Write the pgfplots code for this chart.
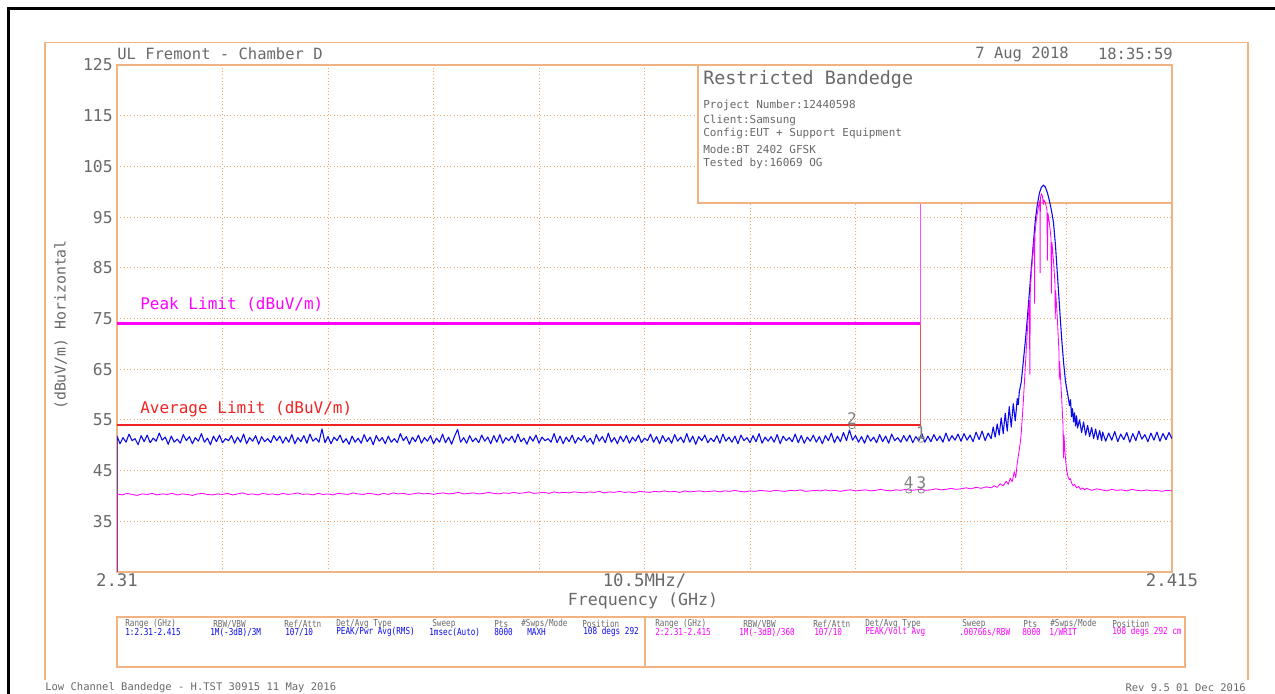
\documentclass[border=0pt]{standalone}
\usepackage{pgfplots}
\pgfplotsset{compat=1.18}
\usepackage{graphicx}
\usepackage{fontspec}
\setmainfont{DejaVu Sans Mono}

\definecolor{frameor}{RGB}{240,180,130}
\definecolor{gridor}{RGB}{240,165,105}
\definecolor{trblue}{RGB}{10,10,235}
\definecolor{trmag}{RGB}{255,0,255}
\definecolor{limred}{RGB}{240,35,35}
\definecolor{txtgray}{RGB}{105,105,105}

% table cell: x, y, colour, text (coordinates in screen pixels)
\newcommand{\tbl}[4]{\node[anchor=west,text=#3] at (#1,#2) {\scalebox{1}[1.25]{\fontsize{4.6}{5}\selectfont #4}};}

\begin{document}
\begin{tikzpicture}
\useasboundingbox (0,0) rectangle (765pt,416.4pt);

\begin{axis}[
  at={(70.2pt,73.2pt)}, anchor=south west,
  scale only axis, width=633pt, height=304.2pt,
  xmin=2310, xmax=2415, ymin=25, ymax=125,
  xtick={2310,2320.5,2331,2341.5,2352,2362.5,2373,2383.5,2394,2404.5,2415},
  xticklabels={2.31,,,,,10.5MHz/,,,,,2.415},
  ytick={25,35,...,125},
  yticklabels={,35,45,55,65,75,85,95,105,115,125},
  grid=major,
  grid style={gridor, line width=0.5pt, dash pattern=on 0.6pt off 1.4pt},
  axis line style={frameor, line width=0.9pt},
  major tick length=0pt,
  xticklabel style={font=\fontsize{10.4}{12}\selectfont, text=txtgray, inner sep=0pt, yshift=-1pt},
  yticklabel style={font=\fontsize{9.8}{12}\selectfont, text=txtgray, inner sep=0pt, xshift=-2.4pt},
  /pgf/number format/assume math mode=true,
  clip mode=individual,
]

% info box covers the grid, traces go over it
\fill[white] (axis cs:2367.8,97.8) rectangle (axis cs:2415,125);
\draw[frameor, line width=0.9pt] (axis cs:2367.8,97.8) rectangle (axis cs:2415,125);

% trace 1: peak, max hold
\addplot[trblue, line width=0.65pt, line join=round] coordinates {
(2310,24)
(2310.0,51.8) (2310.3,50.3) (2310.6,51.5) (2310.9,50.6) (2311.2,52.2) (2311.5,50.9) (2311.8,51.3) (2312.1,50.1) (2312.4,51.9) (2312.7,50.7)
(2313.0,52.0) (2313.3,50.5) (2313.6,51.4) (2313.9,50.8) (2314.2,52.4) (2314.5,51.0) (2314.8,51.6) (2315.1,50.2) (2315.4,51.8) (2315.7,50.6)
(2316.0,51.2) (2316.3,50.4) (2316.6,52.1) (2316.9,50.9) (2317.2,51.7) (2317.5,50.3) (2317.8,51.5) (2318.1,50.8) (2318.4,52.3) (2318.7,50.6)
(2319.0,51.4) (2319.3,50.1) (2319.6,51.8) (2319.9,50.7) (2320.2,52.0) (2320.5,50.5) (2320.8,51.3) (2321.1,50.9) (2321.4,51.9) (2321.7,50.4)
(2322.0,51.6) (2322.3,50.6) (2322.6,52.2) (2322.9,50.3) (2323.2,51.5) (2323.5,50.8) (2323.8,51.9) (2324.1,50.2) (2324.4,51.7) (2324.7,50.7)
(2325.0,51.3) (2325.3,50.5) (2325.6,51.9) (2325.9,50.9) (2326.2,51.8) (2326.5,50.4) (2326.8,51.6) (2327.1,50.6) (2327.4,52.1) (2327.7,50.3)
(2328.0,51.5) (2328.3,50.7) (2328.6,51.9) (2328.9,50.4) (2329.2,52.2) (2329.5,50.8) (2329.8,51.4) (2330.1,50.6) (2330.4,53.2) (2330.7,50.5)
(2331.0,51.7) (2331.3,50.3) (2331.6,51.6) (2331.9,50.9) (2332.2,52.0) (2332.5,50.5) (2332.8,51.3) (2333.1,50.2) (2333.4,51.8) (2333.7,50.6)
(2334.0,51.4) (2334.3,50.4) (2334.6,52.1) (2334.9,50.7) (2335.2,51.6) (2335.5,50.1) (2335.8,51.9) (2336.1,50.8) (2336.4,51.5) (2336.7,50.3)
(2337.0,51.8) (2337.3,50.6) (2337.6,51.3) (2337.9,50.5) (2338.2,52.3) (2338.5,50.9) (2338.8,51.7) (2339.1,50.2) (2339.4,51.6) (2339.7,50.7)
(2340.0,52.0) (2340.3,50.4) (2340.6,51.5) (2340.9,50.8) (2341.2,51.9) (2341.5,50.3) (2341.8,51.4) (2342.1,50.6) (2342.4,52.2) (2342.7,50.5)
(2343.0,51.6) (2343.3,50.2) (2343.6,51.8) (2343.9,53.1) (2344.2,50.6) (2344.5,51.5) (2344.8,50.4) (2345.1,51.9) (2345.4,50.7) (2345.7,51.4)
(2346.0,50.5) (2346.3,52.0) (2346.6,50.8) (2346.9,51.6) (2347.2,50.3) (2347.5,51.9) (2347.8,50.6) (2348.1,52.1) (2348.4,50.4) (2348.7,51.5)
(2349.0,50.9) (2349.3,51.8) (2349.6,50.5) (2349.9,52.2) (2350.2,50.7) (2350.5,51.4) (2350.8,50.2) (2351.1,51.7) (2351.4,50.8) (2351.7,52.0)
(2352.0,50.4) (2352.3,51.6) (2352.6,50.9) (2352.9,51.3) (2353.2,50.6) (2353.5,52.3) (2353.8,50.5) (2354.1,51.8) (2354.4,50.3) (2354.7,51.6)
(2355.0,50.7) (2355.3,52.0) (2355.6,50.4) (2355.9,51.5) (2356.2,50.9) (2356.5,51.9) (2356.8,50.6) (2357.1,51.4) (2357.4,50.2) (2357.7,52.1)
(2358.0,50.8) (2358.3,51.7) (2358.6,50.5) (2358.9,52.4) (2359.2,50.6) (2359.5,51.5) (2359.8,50.3) (2360.1,51.8) (2360.4,50.7) (2360.7,51.9)
(2361.0,50.4) (2361.3,51.6) (2361.6,50.8) (2361.9,52.0) (2362.2,50.5) (2362.5,51.4) (2362.8,50.9) (2363.1,52.2) (2363.4,50.6) (2363.7,51.7)
(2364.0,50.3) (2364.3,51.9) (2364.6,50.7) (2364.9,51.5) (2365.2,50.4) (2365.5,52.1) (2365.8,50.8) (2366.1,51.6) (2366.4,50.5) (2366.7,52.3)
(2367.0,50.6) (2367.3,51.8) (2367.6,50.2) (2367.9,51.7) (2368.2,50.9) (2368.5,52.0) (2368.8,50.5) (2369.1,51.4) (2369.4,50.7) (2369.7,51.9)
(2370.0,50.4) (2370.3,52.2) (2370.6,50.8) (2370.9,51.6) (2371.2,50.6) (2371.5,51.8) (2371.8,50.3) (2372.1,52.0) (2372.4,50.9) (2372.7,51.5)
(2373.0,50.5) (2373.3,51.9) (2373.6,50.7) (2373.9,52.3) (2374.2,50.4) (2374.5,51.6) (2374.8,50.8) (2375.1,51.7) (2375.4,50.6) (2375.7,52.1)
(2376.0,50.3) (2376.3,51.8) (2376.6,50.9) (2376.9,51.5) (2377.2,50.7) (2377.5,52.2) (2377.8,50.5) (2378.1,51.9) (2378.4,50.4) (2378.7,51.6)
(2379.0,50.8) (2379.3,52.0) (2379.6,50.6) (2379.9,51.7) (2380.2,50.3) (2380.5,51.9) (2380.8,50.9) (2381.1,52.4) (2381.4,50.5) (2381.7,51.8)
(2382.0,50.7) (2382.3,52.5) (2382.6,50.9) (2382.9,53.0) (2383.2,51.0) (2383.5,51.9) (2383.8,50.6) (2384.1,51.7) (2384.4,50.4) (2384.7,52.0)
(2385.0,50.8) (2385.3,51.6) (2385.6,50.5) (2385.9,52.1) (2386.2,50.7) (2386.5,51.8) (2386.8,50.4) (2387.1,52.2) (2387.4,50.9) (2387.7,51.5)
(2388.0,50.6) (2388.3,51.9) (2388.6,50.8) (2388.9,52.0) (2389.2,50.5) (2389.5,51.7) (2389.8,50.9) (2390.1,52.3) (2390.4,50.6) (2390.7,51.8)
(2391.0,50.7) (2391.3,52.1) (2391.6,50.9) (2391.9,51.8) (2392.2,50.6) (2392.5,52.4) (2392.8,50.8) (2393.1,51.9) (2393.4,51.0) (2393.7,52.2)
(2394.0,50.8) (2394.3,52.3) (2394.6,51.0) (2394.9,52.0) (2395.2,50.7) (2395.5,52.6) (2395.8,51.1) (2396.1,52.8) (2396.4,50.9) (2396.7,52.4)
(2397.0,51.3) (2397.2,53.6) (2397.4,51.6) (2397.6,54.2) (2397.8,52.0) (2398.0,55.4) (2398.2,52.3) (2398.4,56.3) (2398.6,52.8) (2398.8,57.6)
(2399.0,53.6) (2399.2,58.2) (2399.4,54.8) (2399.6,59.2) (2399.7,58.0) (2399.8,60.5) (2399.9,61.5) (2400.0,62.5) (2400.2,66.5) (2400.4,70.5)
(2400.6,75.0) (2400.8,80.0) (2401.0,85.0) (2401.2,89.8) (2401.4,94.5) (2401.6,97.5) (2401.8,99.7) (2402.0,100.9) (2402.2,101.3) (2402.4,100.9)
(2402.6,99.8) (2402.8,98.2) (2403.0,96.3) (2403.2,94.0) (2403.4,89.5) (2403.6,83.5) (2403.8,77.5) (2404.0,71.5) (2404.2,66.5) (2404.4,62.5)
(2404.6,60.3) (2404.8,57.8) (2404.9,59.0) (2405.0,55.6) (2405.1,57.2) (2405.2,54.6) (2405.3,56.4) (2405.4,53.8) (2405.5,55.8) (2405.6,53.4)
(2405.8,55.0) (2406.0,52.5) (2406.2,54.6) (2406.4,52.0) (2406.6,53.9) (2406.8,51.7) (2407.0,53.5) (2407.2,51.3) (2407.4,53.2) (2407.6,51.1)
(2407.8,52.9) (2408.0,50.9) (2408.1,52.6) (2408.4,50.8) (2408.7,52.4) (2409.0,51.0) (2409.3,52.7) (2409.6,50.7) (2409.9,52.2) (2410.2,51.1)
(2410.5,52.5) (2410.8,50.6) (2411.1,52.3) (2411.4,50.9) (2411.7,52.8) (2412.0,51.2) (2412.3,52.1) (2412.6,50.7) (2412.9,52.4) (2413.2,51.0)
(2413.5,52.6) (2413.8,50.8) (2414.1,52.3) (2414.4,51.1) (2414.7,52.5) (2415.0,51.3)
};

% trace 2: average
\addplot[trmag, line width=0.5pt, line join=round] coordinates {
(2310,24)
(2310.0,40.4) (2310.5,40.2) (2311.0,40.5) (2311.5,40.3) (2312.0,40.1) (2312.5,40.4) (2313.0,40.3) (2313.5,40.5) (2314.0,40.2) (2314.5,40.4)
(2315.0,40.3) (2315.5,40.5) (2316.0,40.2) (2316.5,40.4) (2317.0,40.3) (2317.5,40.1) (2318.0,40.4) (2318.5,40.5) (2319.0,40.3) (2319.5,40.2)
(2320.0,40.4) (2320.5,40.3) (2321.0,40.5) (2321.5,40.2) (2322.0,40.4) (2322.5,40.6) (2323.0,40.3) (2323.5,40.4) (2324.0,40.2) (2324.5,40.5)
(2325.0,40.3) (2325.5,40.4) (2326.0,40.2) (2326.5,40.5) (2327.0,40.3) (2327.5,40.4) (2328.0,40.6) (2328.5,40.3) (2329.0,40.4) (2329.5,40.2)
(2330.0,40.5) (2330.5,40.3) (2331.0,40.4) (2331.5,40.2) (2332.0,40.5) (2332.5,40.4) (2333.0,40.3) (2333.5,40.6) (2334.0,40.4) (2334.5,40.3)
(2335.0,40.5) (2335.5,40.4) (2336.0,40.2) (2336.5,40.5) (2337.0,40.3) (2337.5,40.6) (2338.0,40.4) (2338.5,40.5) (2339.0,40.3) (2339.5,40.4)
(2340.0,40.6) (2340.5,40.4) (2341.0,40.5) (2341.5,40.3) (2342.0,40.5) (2342.5,40.6) (2343.0,40.4) (2343.5,40.5) (2344.0,40.7) (2344.5,40.4)
(2345.0,40.5) (2345.5,40.6) (2346.0,40.4) (2346.5,40.5) (2347.0,40.7) (2347.5,40.5) (2348.0,40.4) (2348.5,40.6) (2349.0,40.5) (2349.5,40.7)
(2350.0,40.5) (2350.5,40.6) (2351.0,40.8) (2351.5,40.5) (2352.0,40.6) (2352.5,40.7) (2353.0,40.5) (2353.5,40.8) (2354.0,40.6) (2354.5,40.7)
(2355.0,40.6) (2355.5,40.8) (2356.0,40.7) (2356.5,40.6) (2357.0,40.8) (2357.5,40.7) (2358.0,40.9) (2358.5,40.6) (2359.0,40.8) (2359.5,40.7)
(2360.0,40.9) (2360.5,40.7) (2361.0,40.8) (2361.5,40.6) (2362.0,40.9) (2362.5,40.8) (2363.0,40.7) (2363.5,40.9) (2364.0,40.8) (2364.5,41.0)
(2365.0,40.8) (2365.5,40.9) (2366.0,40.7) (2366.5,41.0) (2367.0,40.8) (2367.5,40.9) (2368.0,41.0) (2368.5,40.8) (2369.0,40.9) (2369.5,41.0)
(2370.0,40.8) (2370.5,41.0) (2371.0,40.9) (2371.5,41.1) (2372.0,40.9) (2372.5,40.8) (2373.0,41.0) (2373.5,40.9) (2374.0,41.1) (2374.5,41.0)
(2375.0,40.9) (2375.5,41.1) (2376.0,41.0) (2376.5,40.9) (2377.0,41.1) (2377.5,41.0) (2378.0,41.2) (2378.5,40.9) (2379.0,41.0) (2379.5,41.1)
(2380.0,41.0) (2380.5,41.2) (2381.0,41.0) (2381.5,41.1) (2382.0,40.9) (2382.5,41.1) (2383.0,41.2) (2383.5,41.0) (2384.0,41.1) (2384.5,41.2)
(2385.0,41.0) (2385.5,41.1) (2386.0,41.3) (2386.5,41.1) (2387.0,41.0) (2387.5,41.2) (2388.0,41.1) (2388.5,41.3) (2389.0,41.1) (2389.5,41.2)
(2390.0,41.3) (2390.5,41.1) (2391.0,41.2) (2391.5,41.4) (2392.0,41.2) (2392.5,41.3) (2393.0,41.5) (2393.5,41.3) (2394.0,41.4) (2394.5,41.6)
(2395.0,41.4) (2395.5,41.7) (2396.0,41.5) (2396.5,41.8)
(2397.0,41.6) (2397.3,42.0) (2397.6,41.7) (2397.9,42.4) (2398.2,42.0) (2398.5,42.9) (2398.7,42.3) (2398.9,43.5) (2399.1,42.8) (2399.3,44.8)
(2399.45,43.6) (2399.6,46.5) (2399.75,48.5) (2399.9,50.5) (2400.0,52.5) (2400.1,55.5) (2400.2,58.5) (2400.3,62.0) (2400.4,65.5) (2400.5,69.0)
(2400.6,72.5) (2400.7,75.5) (2400.8,78.5) (2400.85,64.0) (2400.9,80.5) (2401.0,84.0) (2401.1,86.5) (2401.2,89.0) (2401.3,91.0) (2401.32,78.0)
(2401.35,91.5) (2401.5,94.5) (2401.7,97.0) (2401.85,98.3) (2401.87,84.0) (2401.9,98.8) (2402.0,99.6) (2402.1,99.2) (2402.2,97.5) (2402.25,98.4)
(2402.4,97.8) (2402.55,96.5) (2402.6,86.5) (2402.65,95.8) (2402.8,93.8) (2402.95,91.0) (2403.0,80.0) (2403.05,90.0) (2403.2,86.5) (2403.35,82.0)
(2403.38,75.0) (2403.42,80.5) (2403.6,74.5) (2403.75,68.5) (2403.78,63.0) (2403.82,66.5) (2404.0,60.0) (2404.15,54.0) (2404.2,47.5) (2404.25,52.0)
(2404.35,48.5) (2404.5,45.2) (2404.65,43.8) (2404.8,43.2) (2404.9,43.4) (2405.0,42.6) (2405.15,42.0) (2405.3,42.3) (2405.5,41.6) (2405.7,41.9)
(2405.9,41.3) (2406.1,41.6) (2406.3,41.2) (2406.5,41.5) (2407.0,41.1) (2407.5,41.4) (2408.0,41.2) (2408.5,41.0) (2409.0,41.3) (2409.5,41.1)
(2410.0,41.2) (2410.5,41.0) (2411.0,41.3) (2411.5,41.1) (2412.0,41.0) (2412.5,41.2) (2413.0,41.0) (2413.5,41.1) (2414.0,40.9) (2414.5,41.1)
(2415.0,41.0)
};

% limit lines
\addplot[trmag, line width=1.4pt] coordinates {(2310,74) (2390,74)};
\addplot[limred, line width=1.0pt] coordinates {(2310,54) (2390,54)};
\addplot[trmag!70, line width=0.5pt] coordinates {(2390,97.5) (2390,74)};
\addplot[limred!80, line width=0.5pt] coordinates {(2390,74) (2390,54)};

% markers
\addplot[only marks, mark=o, mark size=1.3pt, mark options={xscale=1.4, draw=gray, line width=0.45pt},
  nodes near coords, point meta=explicit symbolic,
  every node near coord/.style={anchor=south, text=gray, inner sep=0.3pt, yshift=0.6pt, font=\fontsize{9.6}{10}\selectfont}]
  coordinates {(2383.15,53.7)[2] (2390.0,51.0)[1] (2388.8,41.0)[4] (2390.05,41.0)[3]};

\end{axis}

\begin{scope}[x=0.6pt, y=-0.6pt, yshift=416.4pt, every node/.style={inner sep=0pt, text=txtgray}]
% page border and outer frame
\draw[line width=1.6pt] (8.5,694) -- (8.5,8.5) -- (1275,8.5);
\draw[frameor, line width=0.8pt] (45,680) -- (45,42.5) -- (1248,42.5) -- (1248,680);

% header
\node[anchor=west] at (117,54) {\fontsize{9.3}{11}\selectfont UL Fremont - Chamber D};
\node[anchor=east] at (1069,54) {\fontsize{9.3}{11}\selectfont 7 Aug 2018};
\node[anchor=east] at (1173,54) {\fontsize{9.3}{11}\selectfont 18:35:59};

% info box text
\node[anchor=west] at (703,80) {\fontsize{11}{13}\selectfont Restricted Bandedge};
\node[anchor=west] at (703,105) {\fontsize{6.6}{8}\selectfont Project Number:12440598};
\node[anchor=west] at (703,120) {\fontsize{6.6}{8}\selectfont Client:Samsung};
\node[anchor=west] at (703,134) {\fontsize{6.6}{8}\selectfont Config:EUT + Support Equipment};
\node[anchor=west] at (703,149) {\fontsize{6.6}{8}\selectfont Mode:BT 2402 GFSK};
\node[anchor=west] at (703,163) {\fontsize{6.6}{8}\selectfont Tested by:16069 OG};

% limit labels
\node[anchor=west, text=trmag] at (140,304) {\fontsize{9.6}{11}\selectfont Peak Limit (dBuV/m)};
\node[anchor=west, text=limred] at (140,409) {\fontsize{9.6}{11}\selectfont Average Limit (dBuV/m)};

% axis titles
\node[rotate=90] at (61,325) {\fontsize{8.9}{10}\selectfont (dBuV/m) Horizontal};
\node at (643,601) {\fontsize{10}{12}\selectfont Frequency (GHz)};

% settings table
\draw[frameor, line width=0.8pt] (117,617) rectangle (1185,667);
\draw[frameor, line width=0.8pt] (645,617) -- (645,667);
\tbl{125}{624}{txtgray}{Range (GHz)}
\tbl{213}{624}{txtgray}{RBW/VBW}
\tbl{284}{624}{txtgray}{Ref/Attn}
\tbl{336}{624}{txtgray}{Det/Avg Type}
\tbl{432}{624}{txtgray}{Sweep}
\tbl{494}{624}{txtgray}{Pts}
\tbl{521}{624}{txtgray}{\#Swps/Mode}
\tbl{582}{624}{txtgray}{Position}
\tbl{125}{632}{trblue}{1:2.31-2.415}
\tbl{210}{632}{trblue}{1M(-3dB)/3M}
\tbl{285}{632}{trblue}{107/10}
\tbl{336}{632}{trblue}{PEAK/Pwr Avg(RMS)}
\tbl{429}{632}{trblue}{1msec(Auto)}
\tbl{494}{632}{trblue}{8000}
\tbl{527}{632}{trblue}{MAXH}
\tbl{583}{632}{trblue}{108 degs 292}
\tbl{655}{624}{txtgray}{Range (GHz)}
\tbl{743}{624}{txtgray}{RBW/VBW}
\tbl{813}{624}{txtgray}{Ref/Attn}
\tbl{865}{624}{txtgray}{Det/Avg Type}
\tbl{962}{624}{txtgray}{Sweep}
\tbl{1023}{624}{txtgray}{Pts}
\tbl{1050}{624}{txtgray}{\#Swps/Mode}
\tbl{1112}{624}{txtgray}{Position}
\tbl{655}{632}{trmag}{2:2.31-2.415}
\tbl{739}{632}{trmag}{1M(-3dB)/360}
\tbl{814}{632}{trmag}{107/10}
\tbl{865}{632}{trmag}{PEAK/Volt Avg}
\tbl{959}{632}{trmag}{.00766s/RBW}
\tbl{1022}{632}{trmag}{8000}
\tbl{1049}{632}{trmag}{1/WRIT}
\tbl{1112}{632}{trmag}{108 degs 292 cm}

% footer
\node[anchor=west] at (45,688) {\fontsize{6.3}{7}\selectfont Low Channel Bandedge - H.TST 30915 11 May 2016};
\node[anchor=east] at (1246,688) {\fontsize{6.3}{7}\selectfont Rev 9.5 01 Dec 2016};
\end{scope}
\end{tikzpicture}
\end{document}
